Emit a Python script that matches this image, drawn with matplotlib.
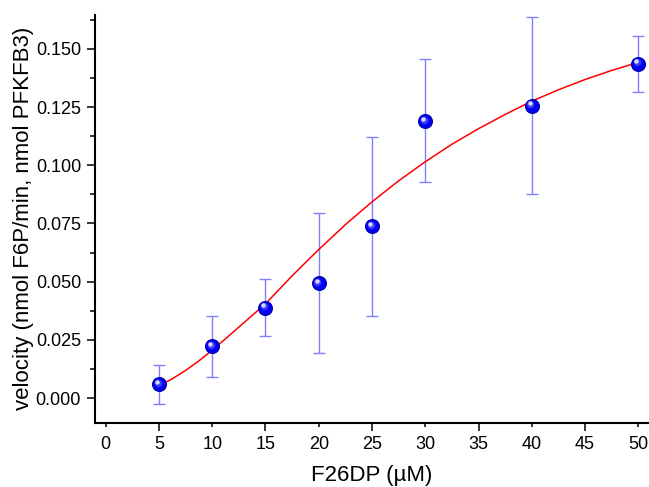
"""
F26DP dose-response of PFKFB3 velocity with Hill-type fit curve.

Output: out.png
"""
import numpy as np
import matplotlib
matplotlib.use("Agg")
import matplotlib.pyplot as plt
import matplotlib.transforms as mtrans
from matplotlib.ticker import FixedLocator, FormatStrFormatter

plt.rcParams["font.family"] = ["Liberation Sans", "DejaVu Sans"]

# ── Data ──────────────────────────────────────────────────────────────────────
conc     = [5, 10, 15, 20, 25, 30, 40, 50]
velocity = [0.0060, 0.0222, 0.0389, 0.0494, 0.0737, 0.1190, 0.1256, 0.1436]
err      = [0.0083, 0.0131, 0.0122, 0.0302, 0.0385, 0.0264, 0.0380, 0.0120]

# fitted curve, sampled by eye along the red line
fit_x = [5, 6.25, 7.5, 8.75, 10, 11.25, 12.5, 13.75, 15, 16.25, 17.5, 18.75,
         20, 22.5, 25, 27.5, 30, 32.5, 35, 37.5, 40, 42.5, 45, 47.5, 50]
fit_y = [0.0053, 0.0083, 0.0119, 0.0160, 0.0206, 0.0255, 0.0305, 0.0355,
         0.0405, 0.0465, 0.0525, 0.0582, 0.0638, 0.0745, 0.0843, 0.0933,
         0.1015, 0.1090, 0.1157, 0.1218, 0.1275, 0.1324, 0.1368, 0.1407,
         0.1442]

X_MAJOR = [5, 15, 25, 35, 45]
X_MINOR = [0, 10, 20, 30, 40, 50]
Y_MAJOR = [0.000, 0.025, 0.050, 0.075, 0.100, 0.125, 0.150]
Y_MINOR = [0.0125, 0.0375, 0.0625, 0.0875, 0.1125, 0.1375, 0.1625]

# ── Plot ──────────────────────────────────────────────────────────────────────
fig = plt.figure(figsize=(6.49, 4.87), dpi=100)
ax = fig.add_axes([0.1464, 0.1322, 0.8536, 0.8370])

ax.errorbar(conc, velocity, yerr=err, fmt="none", ecolor="#8080ff",
            elinewidth=1.0, capsize=4.0, capthick=1.0, zorder=2)
ax.plot(fit_x, fit_y, color="red", lw=1.1, zorder=3)

# spheres: solid blue ball plus a small highlight offset up-left
ax.plot(conc, velocity, "o", ms=10, mfc="#0000f0", mec="#0000b0", mew=0.8,
        zorder=4)
hl2 = mtrans.offset_copy(ax.transData, fig=fig, x=-1.0, y=1.0, units="points")
ax.plot(conc, velocity, "o", ms=5.5, mfc="#6060ff", mec="none", alpha=0.6,
        transform=hl2, zorder=4.5)
hl = mtrans.offset_copy(ax.transData, fig=fig, x=-1.6, y=1.6, units="points")
ax.plot(conc, velocity, "o", ms=3.2, mfc="#d8d8ff", mec="none",
        transform=hl, zorder=5)

ax.set_xlim(-1.0, 51.0)
ax.set_ylim(-0.0105, 0.1645)

ax.xaxis.set_major_locator(FixedLocator(X_MAJOR))
ax.xaxis.set_minor_locator(FixedLocator(X_MINOR))
ax.xaxis.set_major_formatter(FormatStrFormatter("%d"))
ax.xaxis.set_minor_formatter(FormatStrFormatter("%d"))
ax.yaxis.set_major_locator(FixedLocator(Y_MAJOR))
ax.yaxis.set_minor_locator(FixedLocator(Y_MINOR))
ax.yaxis.set_major_formatter(FormatStrFormatter("%.3f"))

ax.tick_params(axis="x", which="major", direction="out", length=5.5,
               width=1.1, labelsize=13, pad=4)
ax.tick_params(axis="x", which="minor", direction="out", length=2.8,
               width=1.1, labelsize=13, pad=6.7)
ax.tick_params(axis="y", which="major", direction="out", length=6,
               width=1.1, labelsize=13, pad=4)
ax.tick_params(axis="y", which="minor", direction="out", length=3.5,
               width=1.1)

for side in ("top", "right"):
    ax.spines[side].set_visible(False)
for side in ("left", "bottom"):
    ax.spines[side].set_linewidth(1.5)

ax.set_xlabel("F26DP (\u00b5M)", fontsize=16, labelpad=9)
ax.set_ylabel("velocity (nmol F6P/min, nmol PFKFB3)", fontsize=16,
              labelpad=1.5)

fig.savefig("out.png", dpi=100)
print("Saved: out.png")
